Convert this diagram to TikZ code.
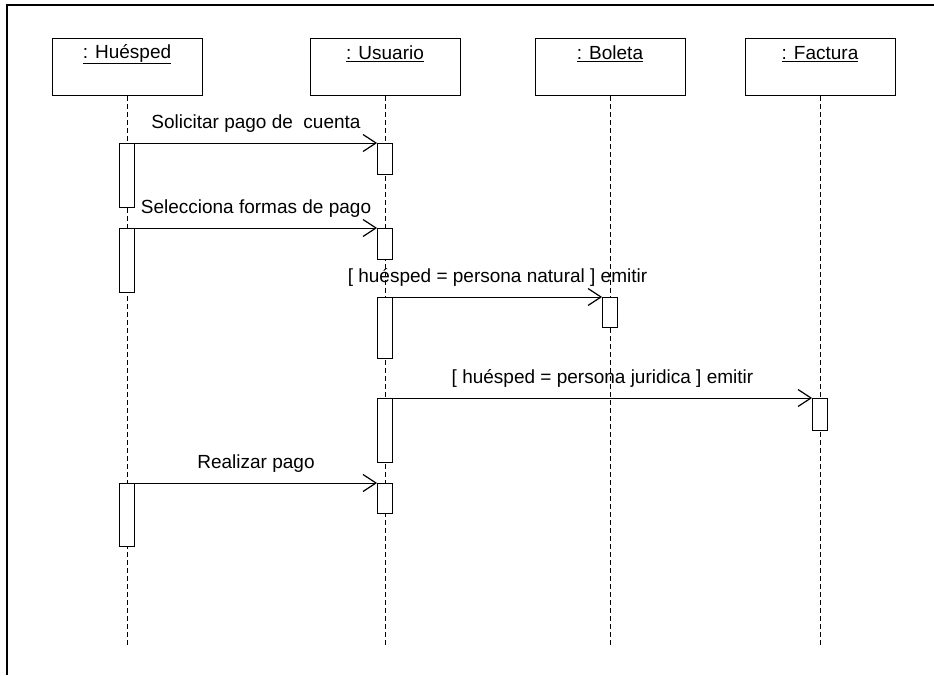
\documentclass[tikz,border=0pt]{standalone}
\usepackage{fontspec}
\setmainfont{Liberation Sans}
\usetikzlibrary{arrows.meta}

\tikzset{
  obj/.style={draw, line width=0.8pt, minimum width=150pt, minimum height=57pt, anchor=north, inner sep=0pt},
  act/.style={draw, fill=white, line width=0.8pt, minimum width=15pt, anchor=north, inner sep=0pt},
  life/.style={line width=0.6pt, dash pattern=on 5pt off 3pt},
  msg/.style={-{Straight Barb[length=13pt,width=17pt,line width=1.2pt]}, line width=0.8pt},
  lbl/.style={font=\fontsize{19}{22}\selectfont, inner sep=0pt},
  msglbl/.style={lbl, midway, anchor=base, yshift=15pt}
}

\begin{document}
\begin{tikzpicture}[x=1pt, y=-1pt]
	\useasboundingbox (0,0) rectangle (934,675);
	
	% frame
	\draw[line width=2pt] (7,675) -- (7,5) -- (934,5);
	
	% objects
	\node[obj] (hue) at (127,38) {};
	\node[obj] (usu) at (385,38) {};
	\node[obj] (bol) at (610,38) {};
	\node[obj] (fac) at (820,38) {};
	\node[lbl] (hueTxt) at (127,54) {\underline{: Huésped}};
	\node[lbl] (usuTxt) at (385,54) {\underline{: Usuario}};
	\node[lbl] (bolTxt) at (610,54) {\underline{: Boleta}};
	\node[lbl] (facTxt) at (820,54) {\underline{: Factura}};
	
	% lifelines
	\coordinate (hueEnd) at (127,647);
	\coordinate (usuEnd) at (385,647);
	\coordinate (bolEnd) at (610,647);
	\coordinate (facEnd) at (820,647);
	\draw[life] (hue.south) -- (hueEnd);
	\draw[life] (usu.south) -- (usuEnd);
	\draw[life] (bol.south) -- (bolEnd);
	\draw[life] (fac.south) -- (facEnd);
	
	% activations
	\node[act, minimum height=64pt] (a1h) at (127,143) {};
	\node[act, minimum height=31pt] (a1u) at (385,143) {};
	\node[act, minimum height=64pt] (a2h) at (127,228) {};
	\node[act, minimum height=31pt] (a2u) at (385,228) {};
	\node[act, minimum height=61pt] (a3u) at (385,297) {};
	\node[act, minimum height=30pt] (a3b) at (610,297) {};
	\node[act, minimum height=64pt] (a4u) at (385,398) {};
	\node[act, minimum height=32pt] (a4f) at (820,398) {};
	\node[act, minimum height=63pt] (a5h) at (127,483) {};
	\node[act, minimum height=30pt] (a5u) at (385,483) {};
	
	% messages
	\draw[msg] (a1h.north east) -- (a1u.north west) node[msglbl] {Solicitar pago de\ \ cuenta};
	\draw[msg] (a2h.north east) -- (a2u.north west) node[msglbl] {Selecciona formas de pago};
	\draw[msg] (a3u.north east) -- (a3b.north west) node[msglbl] {[ huésped = persona natural ] emitir};
	\draw[msg] (a4u.north east) -- (a4f.north west) node[msglbl] {[ huésped = persona juridica ] emitir};
	\draw[msg] (a5h.north east) -- (a5u.north west) node[msglbl] {Realizar pago};
	
\end{tikzpicture}
\end{document}
